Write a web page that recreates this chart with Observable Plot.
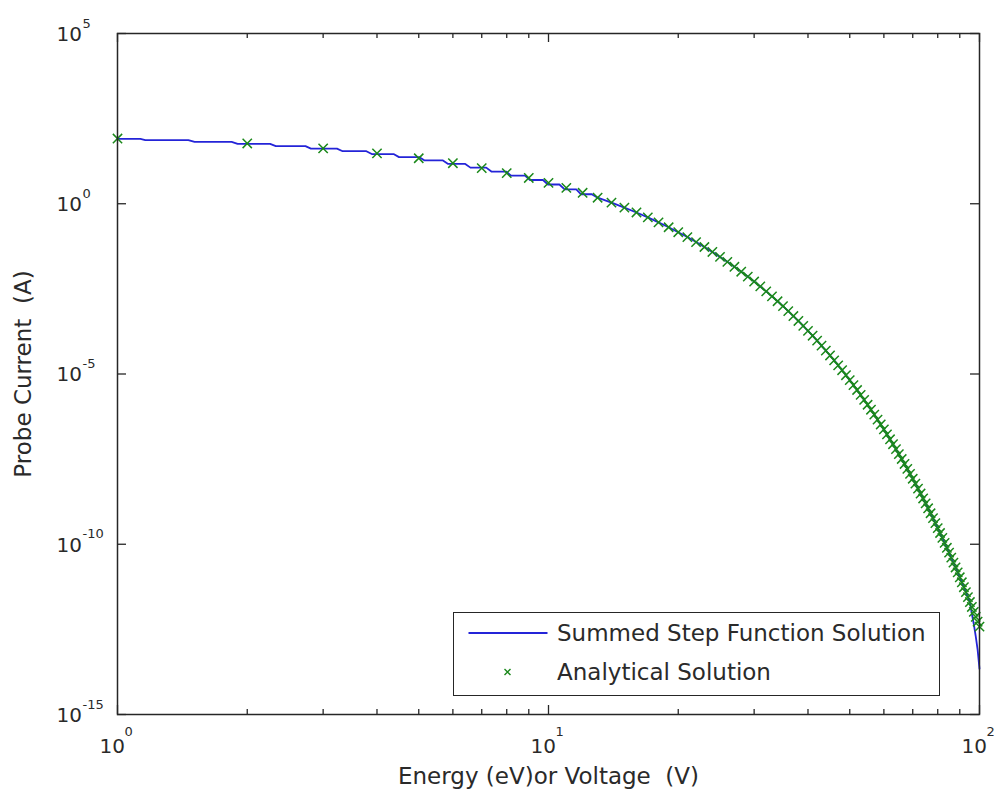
<!DOCTYPE html>
<html><head><meta charset="utf-8">
<script src="https://cdn.jsdelivr.net/npm/d3@7"></script>
<script src="https://cdn.jsdelivr.net/npm/@observablehq/plot@0.6"></script>
<style>
body{margin:0;background:#fff;}
#wrap{position:relative;width:999px;height:803px;}
#legend{position:absolute;left:453px;top:612px;width:487px;height:84px;box-sizing:border-box;border:1.5px solid #262626;background:#fff;font-family:"DejaVu Sans";font-size:23px;color:#2a2a2a;}
.row{position:absolute;left:0;height:30px;width:480px;}
.lbl{position:absolute;left:103px;top:0;height:30px;line-height:30px;white-space:pre;}
</style></head>
<body><div id="wrap"><div id="legend">
<div class="row" style="top:4.5px"><svg width="100" height="30" style="position:absolute;left:0;top:0"><line x1="14.5" x2="93.5" y1="15" y2="15" stroke="#2424d8" stroke-width="2"/></svg><span class="lbl">Summed Step Function Solution</span></div>
<div class="row" style="top:43.5px"><svg width="100" height="30" style="position:absolute;left:0;top:0"><path d="M50.5,12L56.5,18M56.5,12L50.5,18" stroke="#1a881a" stroke-width="1.4"/></svg><span class="lbl">Analytical Solution</span></div>
</div></div>
<script>
// Analytical solution markers (energy in eV, current in A)
const energy = [1,2,3,4,5,6,7,8,9,10,11,12,13,14,15,16,17,18,19,20,21,22,23,24,25,26,27,28,29,30,31,32,33,34,35,36,37,38,39,40,41,42,43,44,45,46,47,48,49,50,51,52,53,54,55,56,57,58,59,60,61,62,63,64,65,66,67,68,69,70,71,72,73,74,75,76,77,78,79,80,81,82,83,84,85,86,87,88,89,90,91,92,93,94,95,96,97,98,99,100];
const current = [8.23e1,5.89e1,4.22e1,3.03e1,2.17e1,1.55e1,1.11e1,7.97,5.71,4.09,
2.93,2.10,1.505,1.078,7.73e-1,5.54e-1,3.97e-1,2.84e-1,2.04e-1,1.46e-1,
1.05e-1,7.49e-2,5.37e-2,3.84e-2,2.75e-2,1.97e-2,1.41e-2,1.01e-2,7.26e-3,5.20e-3,
3.73e-3,2.67e-3,1.91e-3,1.37e-3,9.82e-4,7.04e-4,5.04e-4,3.61e-4,2.59e-4,1.85e-4,
1.33e-4,9.51e-5,6.82e-5,4.88e-5,3.50e-5,2.51e-5,1.80e-5,1.29e-5,9.22e-6,6.61e-6,
4.73e-6,3.39e-6,2.43e-6,1.74e-6,1.25e-6,8.94e-7,6.40e-7,4.59e-7,3.29e-7,2.36e-7,
1.69e-7,1.21e-7,8.66e-8,6.21e-8,4.45e-8,3.19e-8,2.28e-8,1.64e-8,1.17e-8,8.39e-9,
6.01e-9,4.31e-9,3.09e-9,2.21e-9,1.58e-9,1.14e-9,8.14e-10,5.83e-10,4.18e-10,2.99e-10,
2.14e-10,1.54e-10,1.10e-10,7.88e-11,5.65e-11,4.05e-11,2.90e-11,2.08e-11,1.49e-11,1.07e-11,
7.64e-12,5.47e-12,3.92e-12,2.81e-12,2.01e-12,1.44e-12,1.03e-12,7.41e-13,5.31e-13,3.80e-13];

// Summed step function: visible flat steps at low energy (start, end, level)
const flatStart = [1,1.16,1.51,1.90,2.33,2.81,3.33,3.89,4.50,5.16,5.85,6.59,7.37,8.19,9.06,9.97,10.9,11.9];
const flatEnd   = [1.13,1.46,1.84,2.26,2.73,3.23,3.78,4.37,5.01,5.69,6.41,7.17,7.97,8.82,9.71,10.6,11.6,12.6];
const stepLevels = [80.2,73.9,65.5,57.2,49.2,41.7,34.9,28.8,23.4,18.7,14.8,11.5,8.83,6.68,4.98,3.67,2.65,1.90];
// Summed step function: tail where it falls below the analytical curve
const tailE = [96,97,98,99,100];
const tailI = [9.0e-13,4.5e-13,2.0e-13,8.0e-14,2.2e-14];

const yTicks = [1e5,1,1e-5,1e-10,1e-15];
const yExps = ["5","0","-5","-10","-15"];
const xMajor = [1,10,100];
const xExps = ["0","1","2"];
const xMinor = [2,3,4,5,6,7,8,9,20,30,40,50,60,70,80,90];
const xLabel = "Energy (eV)or Voltage\u00a0 (V)";
const yLabel = "Probe Current\u00a0 (A)";

const W=999,H=803, ml=117, mr=20, mt=33, mb=89;
const fw=W-ml-mr, fh=H-mt-mb;
const analytic = energy.map((e,i)=>({e, i: current[i]}));
const blue = [];
for (let k=0;k<stepLevels.length;k++){
  blue.push({e:flatStart[k], i:stepLevels[k]});
  blue.push({e:flatEnd[k], i:stepLevels[k]});
}
analytic.filter(d=>d.e>=13 && d.e<=95).forEach(d=>blue.push(d));
tailE.forEach((e,k)=>blue.push({e, i:tailI[k]}));

const ax = "#262626";
const chart = Plot.plot({
  width:W, height:H, marginLeft:ml, marginRight:mr, marginTop:mt, marginBottom:mb,
  x:{type:"log", domain:[1,100], axis:null},
  y:{type:"log", domain:[1e-15,1e5], axis:null},
  style:{fontFamily:"DejaVu Sans", background:"#fff", color:"#2a2a2a"},
  marks:[
    Plot.line(blue, {x:"e", y:"i", stroke:"#2424d8", strokeWidth:1.8}),
    Plot.dot(analytic, {x:"e", y:"i", symbol:"times", r:4.3, stroke:"#1a881a", strokeWidth:1.5}),
    Plot.tickY(yTicks, {y:d=>d, insetRight:fw-9, stroke:ax, strokeWidth:1.3}),
    Plot.tickY(yTicks, {y:d=>d, insetLeft:fw-9, stroke:ax, strokeWidth:1.3}),
    Plot.tickX(xMajor, {x:d=>d, insetTop:fh-9, stroke:ax, strokeWidth:1.3}),
    Plot.tickX(xMajor, {x:d=>d, insetBottom:fh-9, stroke:ax, strokeWidth:1.3}),
    Plot.tickX(xMinor, {x:d=>d, insetTop:fh-5, stroke:ax, strokeWidth:1.3}),
    Plot.tickX(xMinor, {x:d=>d, insetBottom:fh-5, stroke:ax, strokeWidth:1.3}),
    Plot.frame({stroke:ax, strokeWidth:1.5}),
    Plot.text(yTicks, {y:d=>d, text:()=>"10", frameAnchor:"left", textAnchor:"start", lineAnchor:"middle", dx:-61, dy:1, fontSize:20}),
    Plot.text(yTicks, {y:d=>d, text:(d,i)=>yExps[i], frameAnchor:"left", textAnchor:"start", lineAnchor:"middle", dx:-35, dy:-10, fontSize:13}),
    Plot.text(xMajor, {x:d=>d, text:()=>"10", frameAnchor:"bottom", textAnchor:"start", lineAnchor:"middle", dx:-18, dy:32, fontSize:20}),
    Plot.text(xMajor, {x:d=>d, text:(d,i)=>xExps[i], frameAnchor:"bottom", textAnchor:"start", lineAnchor:"middle", dx:7, dy:17, fontSize:13}),
    Plot.text([xLabel], {text:d=>d, frameAnchor:"bottom", textAnchor:"middle", lineAnchor:"middle", dy:62, fontSize:23}),
    Plot.text([yLabel], {text:d=>d, frameAnchor:"left", textAnchor:"middle", lineAnchor:"middle", rotate:-90, dx:-94, fontSize:23})
  ]
});
const wrap = document.getElementById("wrap");
wrap.insertBefore(chart, wrap.firstChild);
</script>
</body></html>
